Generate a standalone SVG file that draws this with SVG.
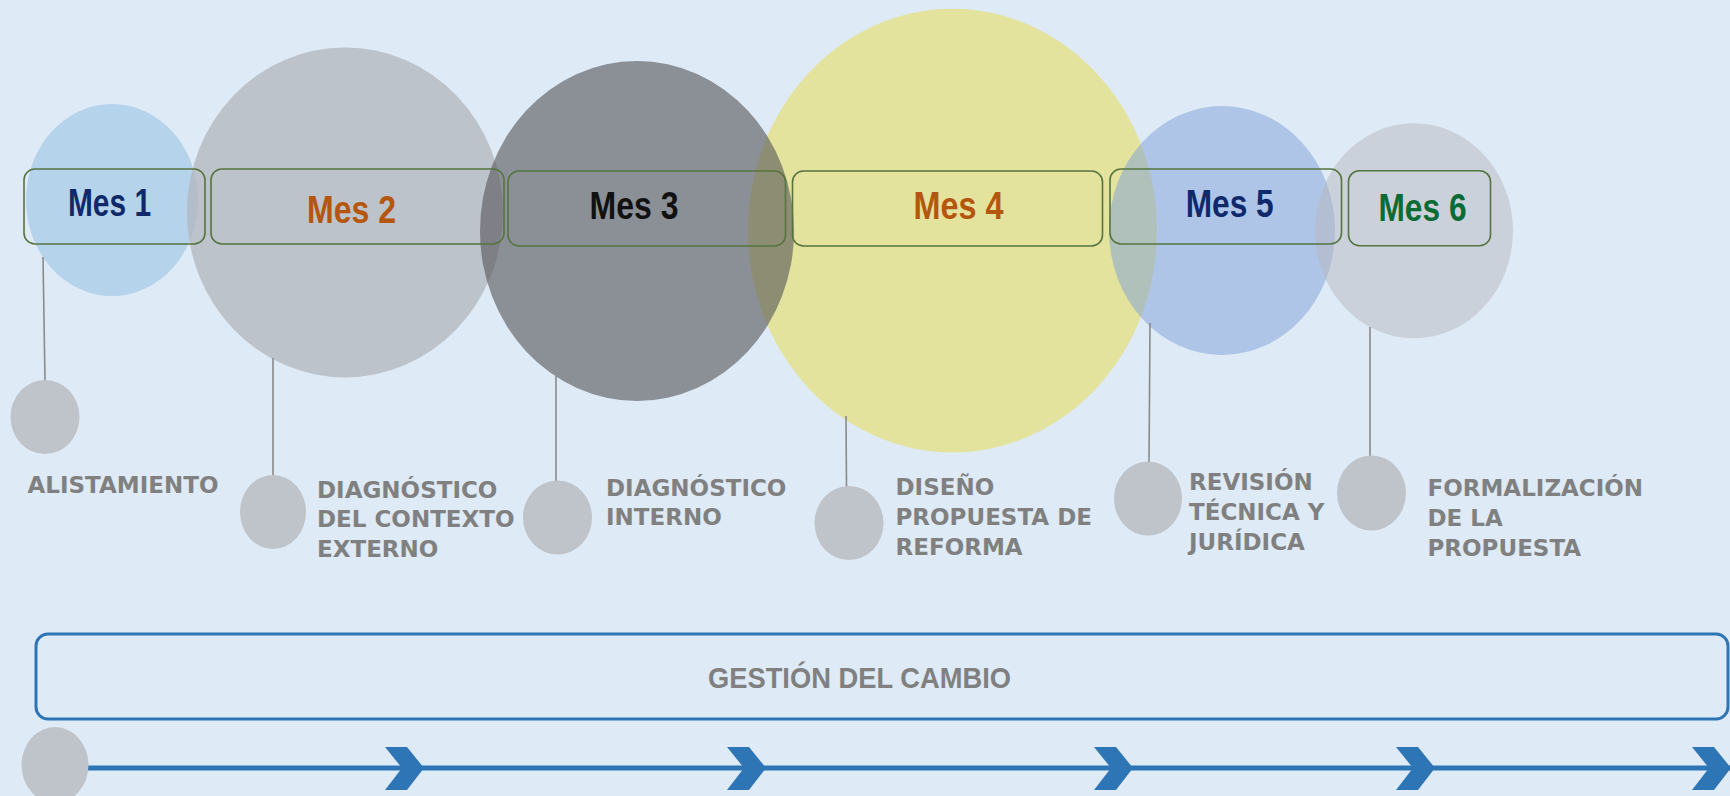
<svg xmlns="http://www.w3.org/2000/svg" width="1730" height="796" viewBox="0 0 1730 796">
<defs>
<style>
.box{fill:none;stroke:#56743f;stroke-width:1.6}
.mes{font-family:"Liberation Sans",Arial,sans-serif;font-weight:bold;font-size:39px}
.lbl{font-family:"DejaVu Sans",Verdana,sans-serif;font-weight:bold;font-size:23px;fill:#808080}
.dot{fill:#bfc3ca}
.stem{stroke:#8a8a8a;stroke-width:1.6;fill:none}
.chev{fill:#2e75b6}
</style>
</defs>
<rect x="0" y="0" width="1730" height="796" fill="#deeaf6"/>

<g id="bubbles">
<ellipse id="b1" cx="112" cy="200" rx="86" ry="96" fill="#b6d3ec"/>
<ellipse id="b4" cx="952.5" cy="230.6" rx="204.5" ry="221.8" fill="#e3e39e"/>
<ellipse id="b2" cx="345" cy="212.4" rx="158" ry="165" fill="rgb(177,181,187)" fill-opacity="0.75"/>
<ellipse id="b3" cx="637" cy="231" rx="157" ry="170" fill="rgb(84,84,89)" fill-opacity="0.6"/>
<ellipse id="b5" cx="1222" cy="230.5" rx="113" ry="124.5" fill="rgb(126,160,218)" fill-opacity="0.5"/>
<ellipse id="b6" cx="1414" cy="230.8" rx="99" ry="107.5" fill="rgb(184,184,190)" fill-opacity="0.5"/>
</g>

<g id="connectors">
<line class="stem" x1="43" y1="257" x2="45" y2="381"/>
<line class="stem" x1="273" y1="358" x2="273" y2="476"/>
<line class="stem" x1="556" y1="376" x2="556" y2="481"/>
<line class="stem" x1="846" y1="416" x2="846.5" y2="487"/>
<line class="stem" x1="1150" y1="323" x2="1149" y2="463"/>
<line class="stem" x1="1370" y1="327" x2="1370" y2="457"/>
<line x1="88" y1="768" x2="1730" y2="768" stroke="#2e75b6" stroke-width="5"/>
<polygon class="chev" points="385,747 407,747 424,768 407,790 385,790 402,768"/>
<polygon class="chev" points="727,747 749,747 766,768 749,790 727,790 744,768"/>
<polygon class="chev" points="1094,747 1116,747 1133,768 1116,790 1094,790 1111,768"/>
<polygon class="chev" points="1396,747 1418,747 1435,768 1418,790 1396,790 1413,768"/>
<polygon class="chev" points="1692,747 1714,747 1731,768 1714,790 1692,790 1709,768"/>
</g>

<g id="mes1">
<rect class="box" x="24" y="169" width="181" height="75" rx="11"/>
<text class="mes" x="68" y="215.7" fill="#10296a" textLength="83" lengthAdjust="spacingAndGlyphs">Mes 1</text>
</g>
<g id="mes2">
<rect class="box" x="211" y="169" width="293" height="75" rx="11"/>
<text class="mes" x="307" y="223" fill="#b4560e" textLength="89" lengthAdjust="spacingAndGlyphs">Mes 2</text>
</g>
<g id="mes3">
<rect class="box" x="508" y="171" width="277.5" height="75" rx="11"/>
<text class="mes" x="589.5" y="219.3" fill="#111111" textLength="89" lengthAdjust="spacingAndGlyphs">Mes 3</text>
</g>
<g id="mes4">
<rect class="box" x="792.5" y="171" width="310" height="75" rx="11"/>
<text class="mes" x="913.5" y="219.3" fill="#b4560e" textLength="90" lengthAdjust="spacingAndGlyphs">Mes 4</text>
</g>
<g id="mes5">
<rect class="box" x="1110" y="169" width="231.5" height="75" rx="11"/>
<text class="mes" x="1185.7" y="217.3" fill="#10296a" textLength="88" lengthAdjust="spacingAndGlyphs">Mes 5</text>
</g>
<g id="mes6">
<rect class="box" x="1348.5" y="170.7" width="142" height="75" rx="11"/>
<text class="mes" x="1378.5" y="220.7" fill="#0b6b35" textLength="88" lengthAdjust="spacingAndGlyphs">Mes 6</text>
</g>

<g id="step1">
<ellipse class="dot" cx="45" cy="417" rx="34.5" ry="37"/>
<text class="lbl" x="27.5" y="492.7">ALISTAMIENTO</text>
</g>
<g id="step2">
<ellipse class="dot" cx="273" cy="512" rx="33" ry="37"/>
<text class="lbl" x="317"><tspan x="317" y="497.7">DIAGNÓSTICO</tspan><tspan x="317" y="527">DEL CONTEXTO</tspan><tspan x="317" y="557">EXTERNO</tspan></text>
</g>
<g id="step3">
<ellipse class="dot" cx="557.5" cy="517.5" rx="34.5" ry="37"/>
<text class="lbl" x="606"><tspan x="606" y="495.7">DIAGNÓSTICO</tspan><tspan x="606" y="525">INTERNO</tspan></text>
</g>
<g id="step4">
<ellipse class="dot" cx="849" cy="523" rx="34.5" ry="37"/>
<text class="lbl" x="895.5"><tspan x="895.5" y="494.5">DISEÑO</tspan><tspan x="895.5" y="524.5">PROPUESTA DE</tspan><tspan x="895.5" y="554.5">REFORMA</tspan></text>
</g>
<g id="step5">
<ellipse class="dot" cx="1148" cy="498.5" rx="34" ry="37"/>
<text class="lbl" x="1189"><tspan x="1189" y="490.3">REVISIÓN</tspan><tspan x="1189" y="520">TÉCNICA Y</tspan><tspan x="1189" y="550">JURÍDICA</tspan></text>
</g>
<g id="step6">
<ellipse class="dot" cx="1371.5" cy="493" rx="34.5" ry="37.5"/>
<text class="lbl" x="1427.5"><tspan x="1427.5" y="496">FORMALIZACIÓN</tspan><tspan x="1427.5" y="525.7">DE LA</tspan><tspan x="1427.5" y="556">PROPUESTA</tspan></text>
</g>

<g id="gestion">
<rect x="36" y="634" width="1692" height="85" rx="12" fill="none" stroke="#2e75b6" stroke-width="3"/>
<text x="708" y="688" font-family="'Liberation Sans',Arial,sans-serif" font-weight="bold" font-size="30" fill="#808080" textLength="303" lengthAdjust="spacingAndGlyphs">GESTIÓN DEL CAMBIO</text>
</g>
<g id="start">
<ellipse class="dot" cx="55" cy="765" rx="33.5" ry="38"/>
</g>
</svg>
